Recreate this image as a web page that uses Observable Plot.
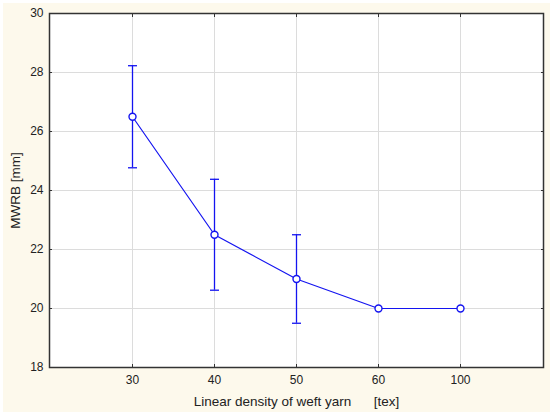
<!DOCTYPE html>
<html>
<head>
<meta charset="utf-8">
<script src="https://cdn.jsdelivr.net/npm/d3@7"></script>
<script src="https://cdn.jsdelivr.net/npm/@observablehq/plot@0.6"></script>
<style>
  html, body { margin: 0; padding: 0; background: #ffffff; }
  #wrap { position: relative; width: 550px; height: 418px; }
  #bg { position: absolute; left: 3px; top: 3px; width: 547px; height: 409px; background: #fdf9ec; }
  #chart { position: absolute; left: 0; top: 0; }
  #chart svg { background: transparent !important; display: block; }
</style>
</head>
<body>
<div id="wrap"><div id="bg"></div><div id="chart"></div></div>
<script>
const categories = ["30", "40", "50", "60", "100"];
const means = [26.5, 22.5, 21.0, 20.0, 20.0];
const upper = [28.23, 24.38, 22.5, null, null];
const lower = [24.77, 20.62, 19.5, null, null];
const yTicks = [18, 20, 22, 24, 26, 28, 30];
const xLabel = "Linear density of weft yarn\u00a0\u00a0\u00a0\u00a0\u00a0\u00a0[tex]";
const yLabel = "MWRB [mm]";

const data = categories.map((c, i) => ({cat: c, mean: means[i], hi: upper[i], lo: lower[i]}));
const errData = data.filter(d => d.hi != null);

const blue = "#1414f0";
const gridColor = "#dcdcdc";
const frameColor = "#333333";

// horizontal cap symbol for error bars (half-width = r)
const capSymbol = {
  draw(context, size) {
    const w = Math.sqrt(size / Math.PI);
    context.moveTo(-w, 0);
    context.lineTo(w, 0);
  }
};

const chart = Plot.plot({
  width: 550,
  height: 418,
  marginLeft: 49,
  marginRight: 7,
  marginTop: 13,
  marginBottom: 51,
  style: {fontFamily: "Liberation Sans, Arial, sans-serif", fontSize: "13.5px", background: "transparent", color: "#222"},
  x: {type: "point", domain: categories, padding: 1},
  y: {domain: [18, 30]},
  marks: [
    Plot.frame({fill: "white"}),
    Plot.gridX(categories, {stroke: gridColor, strokeOpacity: 1, strokeWidth: 1}),
    Plot.gridY(yTicks, {stroke: gridColor, strokeOpacity: 1, strokeWidth: 1}),
    Plot.axisX({anchor: "bottom", ticks: categories, tickSize: 0, tickPadding: 8, fontSize: 12, fill: "#222",
      label: null}),
    Plot.axisX({anchor: "bottom", ticks: categories, tickSize: 0, tickFormat: () => "", fill: "#222",
      label: xLabel, labelAnchor: "center", labelArrow: "none", labelOffset: 38}),
    Plot.axisX({anchor: "bottom", ticks: categories, tickSize: -3, tickFormat: () => "", label: null, stroke: frameColor}),
    Plot.axisX({anchor: "top", ticks: categories, tickSize: -3, tickFormat: () => "", label: null, stroke: frameColor}),
    Plot.axisY({anchor: "left", ticks: yTicks, tickSize: 0, tickPadding: 6, fontSize: 12, fill: "#222",
      tickFormat: d3.format("d"), label: null}),
    Plot.axisY({anchor: "left", ticks: yTicks, tickSize: 0, tickFormat: () => "", fill: "#222",
      label: yLabel, labelAnchor: "center", labelArrow: "none", labelOffset: 39}),
    Plot.axisY({anchor: "left", ticks: yTicks, tickSize: -3, tickFormat: () => "", label: null, stroke: frameColor}),
    Plot.axisY({anchor: "right", ticks: yTicks, tickSize: -3, tickFormat: () => "", label: null, stroke: frameColor}),
    Plot.ruleX(errData, {x: "cat", y1: "lo", y2: "hi", stroke: blue, strokeWidth: 1.3}),
    Plot.dot(errData, {x: "cat", y: "hi", symbol: capSymbol, r: 4.5, fill: "none", stroke: blue, strokeWidth: 1.3}),
    Plot.dot(errData, {x: "cat", y: "lo", symbol: capSymbol, r: 4.5, fill: "none", stroke: blue, strokeWidth: 1.3}),
    Plot.line(data, {x: "cat", y: "mean", stroke: blue, strokeWidth: 1.2}),
    Plot.dot(data, {x: "cat", y: "mean", r: 3.5, stroke: blue, fill: "white", strokeWidth: 1.4}),
    Plot.frame({stroke: frameColor, strokeWidth: 1.5})
  ]
});
document.getElementById("chart").appendChild(chart);
</script>
</body>
</html>
